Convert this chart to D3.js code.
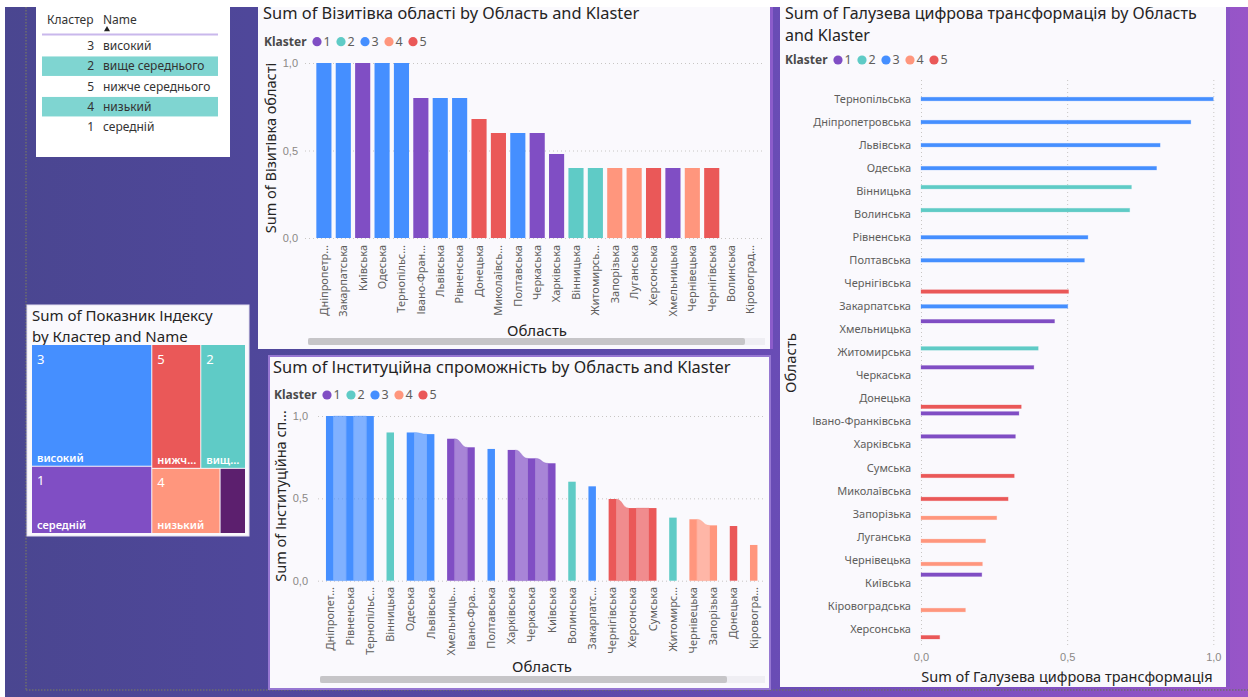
<!DOCTYPE html>
<html>
<head>
<meta charset="utf-8">
<script src="https://cdn.jsdelivr.net/npm/d3@7"></script>
<style>
  html, body { margin: 0; padding: 0; overflow: hidden; background: #fff; }
  svg { display: block; font-family: "Noto Sans", "Open Sans", sans-serif; }
</style>
</head>
<body>
<svg id="dash" width="1248" height="697"></svg>
<script>
// ---------- data ----------
const clusterKeys = ["1", "2", "3", "4", "5"];
const clusterColors = ["#804ec4", "#5fcbc6", "#458fff", "#ff967d", "#ea5858"];
const blankColor = "#5c1f6e";

// cluster legend table
const tableClusters = ["3", "2", "5", "4", "1"];
const tableNames = ["високий", "вище середнього", "нижче середнього", "низький", "середній"];

// index treemap
const tmClusters = ["3", "1", "5", "2", "4", ""];
const tmNames = ["високий", "середній", "нижче середнього", "вище середнього", "низький", ""];
const tmValues = [36.2, 20.0, 15.0, 13.7, 11.0, 4.1];

// Візитівка області
const visitRegions = ["Дніпропетровська", "Закарпатська", "Київська", "Одеська", "Тернопільська",
  "Івано-Франківська", "Львівська", "Рівненська", "Донецька", "Миколаївська", "Полтавська",
  "Черкаська", "Харківська", "Вінницька", "Житомирська", "Запорізька", "Луганська", "Херсонська",
  "Хмельницька", "Чернівецька", "Чернігівська", "Волинська", "Кіровоградська"];
const visitClusters = ["3", "3", "1", "3", "3", "1", "3", "3", "5", "5", "3", "1", "1", "2", "2",
  "4", "4", "5", "1", "4", "5", "2", "4"];
const visitValues = [1.0, 1.0, 1.0, 1.0, 1.0, 0.8, 0.8, 0.8, 0.68, 0.6, 0.6, 0.6, 0.48, 0.4, 0.4,
  0.4, 0.4, 0.4, 0.4, 0.4, 0.4, 0, 0];

// Інституційна спроможність
const instRegions = ["Дніпропетровська", "Рівненська", "Тернопільська", "Вінницька", "Одеська",
  "Львівська", "Хмельницька", "Івано-Франківська", "Полтавська", "Харківська", "Черкаська",
  "Київська", "Волинська", "Закарпатська", "Чернігівська", "Херсонська", "Сумська", "Житомирська",
  "Чернівецька", "Запорізька", "Донецька", "Кіровоградська"];
const instClusters = ["3", "3", "3", "2", "3", "3", "1", "1", "3", "1", "1", "1", "2", "3", "5",
  "5", "5", "2", "4", "4", "5", "4"];
const instValues = [1.0, 1.0, 1.0, 0.90, 0.90, 0.89, 0.862, 0.81, 0.80, 0.794, 0.743, 0.713,
  0.601, 0.573, 0.496, 0.441, 0.441, 0.383, 0.373, 0.336, 0.332, 0.217];

// Галузева цифрова трансформація
const digitRegions = ["Тернопільська", "Дніпропетровська", "Львівська", "Одеська", "Вінницька",
  "Волинська", "Рівненська", "Полтавська", "Чернігівська", "Закарпатська", "Хмельницька",
  "Житомирська", "Черкаська", "Донецька", "Івано-Франківська", "Харківська", "Сумська",
  "Миколаївська", "Запорізька", "Луганська", "Чернівецька", "Київська", "Кіровоградська", "Херсонська"];
const digitClusters = ["3", "3", "3", "3", "2", "2", "3", "3", "5", "3", "1", "2", "1", "5", "1",
  "1", "5", "5", "4", "4", "4", "1", "4", "5"];
const digitValues = [1.0, 0.923, 0.818, 0.806, 0.72, 0.714, 0.571, 0.559, 0.505, 0.502, 0.457,
  0.401, 0.386, 0.343, 0.335, 0.323, 0.319, 0.298, 0.259, 0.221, 0.21, 0.208, 0.152, 0.064];

const valueTicks = [0, 0.5, 1];

// ---------- helpers ----------
const color = d3.scaleOrdinal().domain(clusterKeys).range(clusterColors).unknown(blankColor);
const locale = d3.formatLocale({ decimal: ",", thousands: " ", grouping: [3], currency: ["", " ₴"] });
const fmt = locale.format(".1f");

const TITLE = "#252423", LABEL = "#605e5c", TICK = "#8a8886", GRID = "#c8c6c4", PANEL = "#faf9fd";
const TITLE_SIZE = 16.4;

function fitText(sel, text, maxW) {
  sel.text(text);
  if (sel.node().getComputedTextLength() <= maxW) return;
  let s = text;
  while (s.length > 1) {
    s = s.slice(0, -1);
    sel.text(s + "…");
    if (sel.node().getComputedTextLength() <= maxW) return;
  }
}

function legend(g, x, y) {
  g.append("text").attr("x", x).attr("y", y).attr("dy", "0.35em")
    .attr("font-size", 12).attr("font-weight", 700).attr("fill", "#4a4a4a").text("Klaster");
  const items = g.selectAll(".lg").data(clusterKeys).join("g")
    .attr("transform", (d, i) => `translate(${x + 53 + i * 24},${y})`);
  items.append("circle").attr("r", 4.6).attr("fill", d => color(d));
  items.append("text").attr("x", 6.5).attr("dy", "0.35em").attr("font-size", 12.5)
    .attr("fill", LABEL).text(d => d);
}

const svg = d3.select("#dash");

// ---------- background ----------
const defs = svg.append("defs");
const grad = defs.append("linearGradient").attr("id", "bg").attr("x1", 0).attr("x2", 1).attr("y1", 0).attr("y2", 0);
[[0, "#4a4690"], [0.2, "#4f479a"], [0.45, "#5949a7"], [0.62, "#694cb5"], [0.8, "#7d50c0"], [1, "#9855c8"]]
  .forEach(([o, c]) => grad.append("stop").attr("offset", o).attr("stop-color", c));
svg.append("rect").attr("width", 1248).attr("height", 697).attr("fill", "url(#bg)");

// page guides
svg.append("line").attr("x1", 26).attr("x2", 26).attr("y1", 7).attr("y2", 690)
  .attr("stroke", "#6e6e6e").attr("stroke-width", 1.5).attr("stroke-dasharray", "1.5,1.5");
svg.append("line").attr("x1", 26).attr("x2", 1248).attr("y1", 690).attr("y2", 690)
  .attr("stroke", "#6e6e6e").attr("stroke-width", 1.5).attr("stroke-dasharray", "1.5,1.5");

// ---------- cluster table ----------
{
  const g = svg.append("g");
  g.append("rect").attr("x", 36).attr("y", 0).attr("width", 194).attr("height", 157).attr("fill", "#fff");
  g.append("text").attr("x", 47).attr("y", 20).attr("dy", "0.35em").attr("font-size", 12)
    .attr("fill", "#333").text("Кластер");
  g.append("text").attr("x", 103).attr("y", 20).attr("dy", "0.35em").attr("font-size", 12)
    .attr("fill", "#333").text("Name");
  g.append("path").attr("d", d3.symbol(d3.symbolTriangle, 16)()).attr("transform", "translate(107,29.5)")
    .attr("fill", "#222");
  g.append("line").attr("x1", 42).attr("x2", 218).attr("y1", 34.5).attr("y2", 34.5)
    .attr("stroke", "#c9b8ec").attr("stroke-width", 2);
  const rows = g.selectAll(".row").data(tableClusters).join("g")
    .attr("transform", (d, i) => `translate(0,${46 + i * 20.25})`);
  rows.filter((d, i) => i % 2 === 1).append("rect").attr("x", 42).attr("y", -9.8).attr("width", 176)
    .attr("height", 19.5).attr("fill", "#7fd5d1");
  rows.append("text").attr("x", 94).attr("text-anchor", "end").attr("dy", "0.35em").attr("font-size", 12)
    .attr("fill", "#333").text(d => d);
  rows.append("text").attr("x", 103).attr("dy", "0.35em").attr("font-size", 12)
    .attr("fill", "#333").text((d, i) => tableNames[i]);
}

// ---------- treemap ----------
{
  const g = svg.append("g");
  g.append("rect").attr("x", 27).attr("y", 305).attr("width", 222).attr("height", 231)
    .attr("fill", PANEL).attr("stroke", "#e4e0f0");
  g.append("text").attr("x", 32).attr("y", 321).attr("font-size", 15).attr("fill", TITLE)
    .text("Sum of Показник Індексу");
  g.append("text").attr("x", 32).attr("y", 342).attr("font-size", 15).attr("fill", TITLE)
    .text("by Кластер and Name");

  const root = d3.hierarchy({
    children: tmClusters.map((c, i) => ({ cluster: c, name: tmNames[i], value: tmValues[i] }))
  }).sum(d => d.value || 0).sort((a, b) => b.value - a.value);
  d3.treemap().size([213, 188]).paddingInner(1).tile(d3.treemapSquarify)(root);

  const cells = g.append("g").attr("transform", "translate(32,345)")
    .selectAll("g").data(root.leaves()).join("g")
    .attr("transform", d => `translate(${d.x0},${d.y0})`);
  cells.append("rect").attr("width", d => d.x1 - d.x0).attr("height", d => d.y1 - d.y0)
    .attr("fill", d => color(d.data.cluster));
  cells.filter(d => d.data.cluster !== "").append("text").attr("x", 5).attr("y", 14).attr("dy", "0.35em")
    .attr("font-size", 13).attr("fill", "#fff").text(d => d.data.cluster);
  cells.filter(d => d.data.name !== "").append("text").attr("x", 5).attr("y", d => d.y1 - d.y0 - 8)
    .attr("dy", "0.35em").attr("font-size", 11).attr("font-weight", 600).attr("fill", "#fff")
    .each(function (d) { fitText(d3.select(this), d.data.name, d.x1 - d.x0 - 7); });
}

// ---------- Візитівка області (stacked columns) ----------
{
  const g = svg.append("g");
  g.append("rect").attr("x", 258).attr("y", 0).attr("width", 512).attr("height", 349).attr("fill", PANEL);
  g.append("rect").attr("x", 770).attr("y", 0).attr("width", 3).attr("height", 349).attr("fill", "#8c5ccb");
  g.append("text").attr("x", 263).attr("y", 19).attr("font-size", TITLE_SIZE).attr("fill", TITLE)
    .text("Sum of Візитівка області by Область and Klaster");
  legend(g.append("g"), 264, 41.7);

  const x = d3.scaleBand().domain(visitRegions).range([314.2, 760.2]).paddingInner(0.22).paddingOuter(0.11);
  const y = d3.scaleLinear().domain([0, 1]).range([238, 63]);

  const ax = g.append("g").attr("transform", "translate(305,0)")
    .call(d3.axisLeft(y).tickValues(valueTicks).tickSize(-460).tickPadding(7).tickFormat(fmt));
  ax.select(".domain").remove();
  ax.selectAll("line").attr("stroke", GRID).attr("stroke-dasharray", "1,3");
  ax.selectAll("text").attr("font-size", 11).attr("fill", TICK).attr("font-family", null);

  g.append("g").selectAll("rect").data(visitRegions).join("rect")
    .attr("x", d => x(d)).attr("width", x.bandwidth())
    .attr("y", (d, i) => y(visitValues[i])).attr("height", (d, i) => y(0) - y(visitValues[i]))
    .attr("fill", (d, i) => color(visitClusters[i]));

  g.append("g").selectAll("text").data(visitRegions).join("text")
    .attr("transform", d => `translate(${x(d) + x.bandwidth() / 2},245) rotate(-90)`)
    .attr("text-anchor", "end").attr("dy", "0.35em").attr("font-size", 11).attr("fill", LABEL)
    .each(function (d) { fitText(d3.select(this), d, 73); });

  g.append("text").attr("transform", "translate(270.5,148) rotate(-90)").attr("text-anchor", "middle")
    .attr("dy", "0.35em").attr("font-size", 14.5).attr("fill", TITLE).text("Sum of Візитівка області");
  g.append("text").attr("x", 537).attr("y", 331).attr("text-anchor", "middle").attr("dy", "0.35em")
    .attr("font-size", 15).attr("fill", TITLE).text("Область");

  g.append("rect").attr("x", 308).attr("y", 338).attr("width", 457).attr("height", 7).attr("fill", "#efeef3");
  g.append("rect").attr("x", 308).attr("y", 338).attr("width", 437).attr("height", 7).attr("rx", 2)
    .attr("fill", "#c6c5c8");
}

// ---------- Інституційна спроможність (ribbon) ----------
{
  const g = svg.append("g");
  g.append("rect").attr("x", 269).attr("y", 356).attr("width", 501).attr("height", 333)
    .attr("fill", PANEL).attr("stroke", "#9677d2").attr("stroke-width", 2);
  g.append("text").attr("x", 273).attr("y", 373).attr("font-size", TITLE_SIZE).attr("fill", TITLE)
    .text("Sum of Інституційна спроможність by Область and Klaster");
  legend(g.append("g"), 274, 395);

  const x = d3.scaleBand().domain(instRegions).range([319.6, 763.8]).paddingInner(0.63).paddingOuter(0.315);
  const y = d3.scaleLinear().domain([0, 1]).range([580.7, 416]);

  const ax = g.append("g").attr("transform", "translate(318,0)")
    .call(d3.axisLeft(y).tickValues(valueTicks).tickSize(-446).tickPadding(10).tickFormat(fmt));
  ax.select(".domain").remove();
  ax.selectAll("line").attr("stroke", GRID).attr("stroke-dasharray", "1,3");
  ax.selectAll("text").attr("font-size", 11).attr("fill", TICK).attr("font-family", null);

  // ribbons join neighbouring columns of the same cluster
  const links = d3.range(instRegions.length - 1).filter(i => instClusters[i] === instClusters[i + 1])
    .map(i => ({
      cluster: instClusters[i],
      pts: [{ x: x(instRegions[i]) + x.bandwidth(), v: instValues[i] },
            { x: x(instRegions[i + 1]), v: instValues[i + 1] }]
    }));
  const ribbon = d3.area().x(d => d.x).y0(y(0)).y1(d => y(d.v)).curve(d3.curveBumpX);
  g.append("g").selectAll("path").data(links).join("path")
    .attr("d", d => ribbon(d.pts)).attr("fill", d => color(d.cluster)).attr("fill-opacity", 0.68)
    .attr("stroke", d => color(d.cluster)).attr("stroke-opacity", 0.25);

  g.append("g").selectAll("rect").data(instRegions).join("rect")
    .attr("x", d => x(d)).attr("width", x.bandwidth())
    .attr("y", (d, i) => y(instValues[i])).attr("height", (d, i) => y(0) - y(instValues[i]))
    .attr("fill", (d, i) => color(instClusters[i]));

  g.append("g").selectAll("text").data(instRegions).join("text")
    .attr("transform", d => `translate(${x(d) + x.bandwidth() / 2},587) rotate(-90)`)
    .attr("text-anchor", "end").attr("dy", "0.35em").attr("font-size", 11).attr("fill", LABEL)
    .each(function (d) { fitText(d3.select(this), d, 68.5); });

  const yt = g.append("text").attr("transform", "translate(281,496) rotate(-90)").attr("text-anchor", "middle")
    .attr("dy", "0.35em").attr("font-size", 14.5).attr("fill", TITLE);
  fitText(yt, "Sum of Інституційна спроможність", 172);
  g.append("text").attr("x", 542).attr("y", 667).attr("text-anchor", "middle").attr("dy", "0.35em")
    .attr("font-size", 15).attr("fill", TITLE).text("Область");

  g.append("rect").attr("x", 320).attr("y", 676).attr("width", 445).attr("height", 7).attr("fill", "#efeef3");
  g.append("rect").attr("x", 320).attr("y", 676).attr("width", 407).attr("height", 7).attr("rx", 2)
    .attr("fill", "#c6c5c8");
}

// ---------- Галузева цифрова трансформація (clustered bars) ----------
{
  const g = svg.append("g");
  g.append("rect").attr("x", 780).attr("y", 0).attr("width", 446).attr("height", 687).attr("fill", PANEL);
  g.append("rect").attr("x", 1226).attr("y", 0).attr("width", 4).attr("height", 687).attr("fill", "#8a55c6");
  g.append("text").attr("x", 785).attr("y", 18.5).attr("font-size", 16).attr("fill", TITLE)
    .text("Sum of Галузева цифрова трансформація by Область");
  g.append("text").attr("x", 785).attr("y", 40.5).attr("font-size", 16).attr("fill", TITLE)
    .text("and Klaster");
  legend(g.append("g"), 785, 60);

  const y = d3.scaleBand().domain(digitRegions).range([87.5, 640.5]).paddingInner(0.13).paddingOuter(0.065);
  const yc = d3.scaleBand().domain(clusterKeys).range([0, y.bandwidth()]).paddingInner(0.12);
  const x = d3.scaleLinear().domain([0, 1]).range([921, 1213.3]);

  const ax = g.append("g").attr("transform", "translate(0,645)")
    .call(d3.axisBottom(x).tickValues(valueTicks).tickSize(-565).tickPadding(8).tickFormat(fmt));
  ax.select(".domain").remove();
  ax.selectAll("line").attr("stroke", GRID).attr("stroke-dasharray", "1,3");
  ax.selectAll("text").attr("font-size", 11).attr("fill", TICK).attr("font-family", null);

  g.append("g").selectAll("rect").data(digitRegions).join("rect")
    .attr("x", x(0)).attr("width", (d, i) => x(digitValues[i]) - x(0))
    .attr("y", (d, i) => y(d) + yc(digitClusters[i])).attr("height", yc.bandwidth())
    .attr("fill", (d, i) => color(digitClusters[i]))
    .attr("stroke", (d, i) => color(digitClusters[i])).attr("stroke-opacity", 0.3).attr("stroke-width", 0.8);

  g.append("g").selectAll("text").data(digitRegions).join("text")
    .attr("x", 911).attr("y", d => y(d) + y.bandwidth() / 2).attr("dy", "0.35em")
    .attr("text-anchor", "end").attr("font-size", 11).attr("fill", LABEL).text(d => d);

  g.append("text").attr("transform", "translate(791,363) rotate(-90)").attr("text-anchor", "middle")
    .attr("dy", "0.35em").attr("font-size", 15).attr("fill", TITLE).text("Область");
  g.append("text").attr("x", 1067).attr("y", 677).attr("text-anchor", "middle").attr("dy", "0.35em")
    .attr("font-size", 14.5).attr("fill", TITLE).text("Sum of Галузева цифрова трансформація");
}

// page edges
svg.append("rect").attr("x", 0).attr("y", 0).attr("width", 1248).attr("height", 7).attr("fill", "#fff");
svg.append("rect").attr("x", 0).attr("y", 0).attr("width", 5).attr("height", 697).attr("fill", "#fff");
</script>
</body>
</html>
